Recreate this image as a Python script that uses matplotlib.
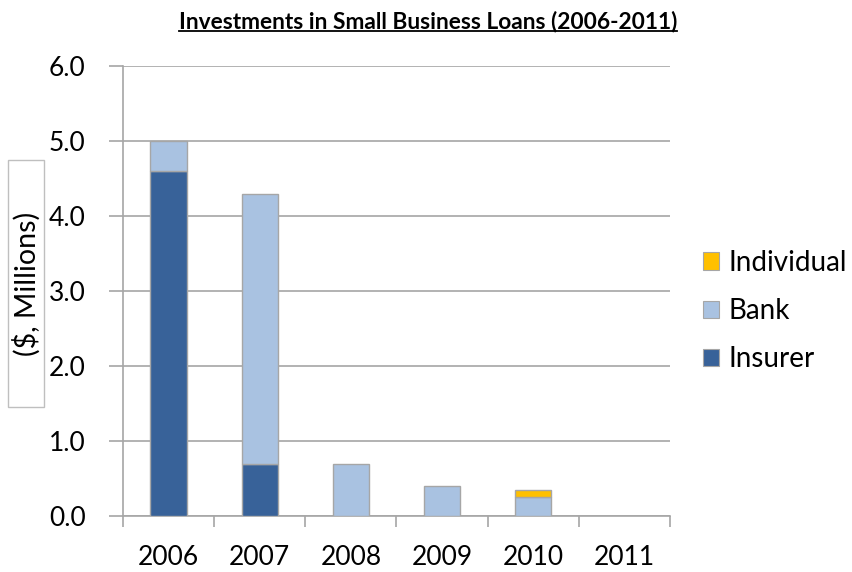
import matplotlib
matplotlib.use("Agg")
import matplotlib.pyplot as plt
from matplotlib.patches import Rectangle
from matplotlib.lines import Line2D
import numpy as np

years = ["2006", "2007", "2008", "2009", "2010", "2011"]
insurer = [4.6, 0.7, 0.0, 0.0, 0.0, 0.0]
bank = [0.4, 3.6, 0.7, 0.4, 0.25, 0.0]
individual = [0.0, 0.0, 0.0, 0.0, 0.1, 0.0]
y_ticks = [0.0, 1.0, 2.0, 3.0, 4.0, 5.0, 6.0]

c_insurer = "#386299"
c_bank = "#A9C2E1"
c_indiv = "#FFC000"
edge = "#A6A6A6"
grid_c = "#A6A6A6"

plt.rcParams["font.family"] = ["Lato", "DejaVu Sans"]

fig = plt.figure(figsize=(8.52, 5.72), dpi=100)
ax = fig.add_axes([123 / 852, 1 - 516 / 572, (670 - 123) / 852, (516 - 66) / 572])

x = np.arange(len(years))
w = 0.4
ins = np.array(insurer)
bnk = np.array(bank)
ind = np.array(individual)

def draw(vals, bottom, color):
    mask = vals > 0
    ax.bar(x[mask], vals[mask], w, bottom=bottom[mask], color=color,
           edgecolor=edge, linewidth=1.0, zorder=3)

draw(ins, np.zeros_like(ins), c_insurer)
draw(bnk, ins, c_bank)
draw(ind, ins + bnk, c_indiv)

ax.set_xlim(-0.5, len(years) - 0.5)
ax.set_ylim(0, 6.0)
ax.set_yticks(y_ticks)
ax.set_yticklabels([f"{v:.1f}" for v in y_ticks], fontsize=19)
ax.yaxis.grid(True, color=grid_c, linewidth=1.2, zorder=0)
ax.set_axisbelow(True)

ax.set_xticks(x)
ax.set_xticklabels(years, fontsize=19)
ax.set_xticks(np.arange(-0.5, len(years)), minor=True)
ax.tick_params(axis="x", which="major", length=0, pad=21)
ax.tick_params(axis="x", which="minor", length=8, color=grid_c, width=1.2)
ax.tick_params(axis="y", length=10, color=grid_c, width=1.2, pad=17)

for s in ["top", "right"]:
    ax.spines[s].set_visible(False)
for s in ["left", "bottom"]:
    ax.spines[s].set_color(grid_c)
    ax.spines[s].set_linewidth(1.2)

# y-axis label inside a box
fig.patches.append(Rectangle((8 / 852, 1 - 407 / 572), 36 / 852, 247 / 572,
                             transform=fig.transFigure, fill=False,
                             edgecolor="#BFBFBF", linewidth=1.0))
fig.text(27 / 852, 1 - 284 / 572, "($, Millions)", rotation=90, fontsize=20.5,
         ha="center", va="center")

# legend
handles = [Rectangle((0, 0), 1, 1, facecolor=c, edgecolor=edge, linewidth=0.8)
           for c in (c_indiv, c_bank, c_insurer)]
fig.legend(handles, ["Individual", "Bank", "Insurer"], loc="center left",
           bbox_to_anchor=(697 / 852, 1 - 311 / 572), frameon=False, fontsize=20,
           handlelength=0.58, handleheight=0.58, handletextpad=0.35,
           labelspacing=0.8, borderpad=0.2, borderaxespad=0.0)

# underlined title
title = fig.text(428 / 852, 1 - 22 / 572, "Investments in Small Business Loans (2006-2011)",
                 fontsize=16.4, fontweight="bold", ha="center", va="center")
fig.canvas.draw()
bb = title.get_window_extent(fig.canvas.get_renderer()).transformed(fig.transFigure.inverted())
yline = bb.y0 + 0.003
fig.lines.append(Line2D([bb.x0, bb.x1], [yline, yline], transform=fig.transFigure,
                        color="black", linewidth=1.3))

fig.savefig("out.png", dpi=100)
